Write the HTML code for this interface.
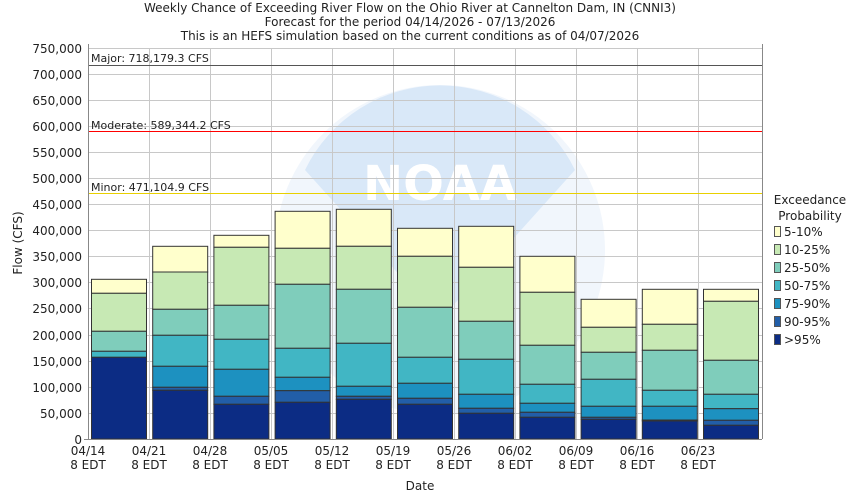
<!DOCTYPE html>
<html><head><meta charset="utf-8"><style>body{margin:0;background:#fff}svg{display:block}text{font-family:"DejaVu Sans","Liberation Sans",sans-serif;font-size:12px;fill:#222}
.a{fill:#ffffcc}.b{fill:#c7e9b4}.c{fill:#7fcdbb}.d{fill:#41b6c4}.e{fill:#1d91c0}.f{fill:#225ea8}.g{fill:#0c2c84}
.bars rect{stroke:#333;stroke-width:1}
</style></head><body>
<svg width="850" height="500" xmlns="http://www.w3.org/2000/svg">
<rect width="850" height="500" fill="#fff"/>
<circle cx="440" cy="250" r="165" fill="#f1f6fc"/>
<path d="M305,170 A150,150 0 0 1 575,170 L440,320 Z" fill="#d9e8f8"/>
<text x="440" y="200" text-anchor="middle" style="font-size:48px;font-weight:bold;fill:#fff">NOAA</text>
<g text-anchor="middle">
<text x="410" y="12">Weekly Chance of Exceeding River Flow on the Ohio River at Cannelton Dam, IN (CNNI3)</text>
<text x="410" y="26">Forecast for the period 04/14/2026 - 07/13/2026</text>
<text x="410" y="40">This is an HEFS simulation based on the current conditions as of 04/07/2026</text>
</g>
<g stroke="#c8c8c8" stroke-width="1">
<line x1="88" x2="762" y1="48.5" y2="48.5"/><line x1="88" x2="762" y1="74.5" y2="74.5"/><line x1="88" x2="762" y1="100.5" y2="100.5"/><line x1="88" x2="762" y1="126.5" y2="126.5"/><line x1="88" x2="762" y1="152.5" y2="152.5"/><line x1="88" x2="762" y1="178.5" y2="178.5"/><line x1="88" x2="762" y1="204.5" y2="204.5"/><line x1="88" x2="762" y1="230.5" y2="230.5"/><line x1="88" x2="762" y1="256.5" y2="256.5"/><line x1="88" x2="762" y1="282.5" y2="282.5"/><line x1="88" x2="762" y1="308.5" y2="308.5"/><line x1="88" x2="762" y1="335.5" y2="335.5"/><line x1="88" x2="762" y1="361.5" y2="361.5"/><line x1="88" x2="762" y1="387.5" y2="387.5"/><line x1="88" x2="762" y1="413.5" y2="413.5"/>
<line x1="149.5" x2="149.5" y1="48" y2="439"/><line x1="210.5" x2="210.5" y1="48" y2="439"/><line x1="271.5" x2="271.5" y1="48" y2="439"/><line x1="332.5" x2="332.5" y1="48" y2="439"/><line x1="393.5" x2="393.5" y1="48" y2="439"/><line x1="454.5" x2="454.5" y1="48" y2="439"/><line x1="515.5" x2="515.5" y1="48" y2="439"/><line x1="576.5" x2="576.5" y1="48" y2="439"/><line x1="637.5" x2="637.5" y1="48" y2="439"/><line x1="698.5" x2="698.5" y1="48" y2="439"/>
</g>
<rect x="88" y="65" width="674" height="1" style="fill:#555555"/>
<rect x="88" y="131" width="674" height="1" style="fill:#ff0000"/>
<rect x="88" y="193" width="674" height="1" style="fill:#e8d000"/>
<text x="91" y="62" style="font-size:11px">Major: 718,179.3 CFS</text>
<text x="91" y="129" style="font-size:11px">Moderate: 589,344.2 CFS</text>
<text x="91" y="191" style="font-size:11px">Minor: 471,104.9 CFS</text>
<g class="bars">
<g transform="translate(91.5,0)"><rect class="a" y="279.3" width="55" height="14"/><rect class="b" y="293.3" width="55" height="38"/><rect class="c" y="331.3" width="55" height="20"/><rect class="d" y="351.3" width="55" height="6"/><rect class="g" y="357.3" width="55" height="81.7"/></g>
<g transform="translate(152.7,0)"><rect class="a" y="246.3" width="55" height="25.7"/><rect class="b" y="272" width="55" height="37.3"/><rect class="c" y="309.3" width="55" height="26"/><rect class="d" y="335.3" width="55" height="31"/><rect class="e" y="366.3" width="55" height="21"/><rect class="f" y="387.3" width="55" height="3"/><rect class="g" y="390.3" width="55" height="48.7"/></g>
<g transform="translate(213.9,0)"><rect class="a" y="235.3" width="55" height="12"/><rect class="b" y="247.3" width="55" height="58"/><rect class="c" y="305.3" width="55" height="34"/><rect class="d" y="339.3" width="55" height="30"/><rect class="e" y="369.3" width="55" height="27"/><rect class="f" y="396.3" width="55" height="8"/><rect class="g" y="404.3" width="55" height="34.7"/></g>
<g transform="translate(275.1,0)"><rect class="a" y="211.3" width="55" height="37"/><rect class="b" y="248.3" width="55" height="36"/><rect class="c" y="284.3" width="55" height="64"/><rect class="d" y="348.3" width="55" height="29"/><rect class="e" y="377.3" width="55" height="13.4"/><rect class="f" y="390.7" width="55" height="11.6"/><rect class="g" y="402.3" width="55" height="36.7"/></g>
<g transform="translate(336.3,0)"><rect class="a" y="209.3" width="55" height="37"/><rect class="b" y="246.3" width="55" height="43"/><rect class="c" y="289.3" width="55" height="54"/><rect class="d" y="343.3" width="55" height="43"/><rect class="e" y="386.3" width="55" height="10"/><rect class="f" y="396.3" width="55" height="3"/><rect class="g" y="399.3" width="55" height="39.7"/></g>
<g transform="translate(397.5,0)"><rect class="a" y="228.3" width="55" height="28"/><rect class="b" y="256.3" width="55" height="51"/><rect class="c" y="307.3" width="55" height="50"/><rect class="d" y="357.3" width="55" height="26"/><rect class="e" y="383.3" width="55" height="15"/><rect class="f" y="398.3" width="55" height="6"/><rect class="g" y="404.3" width="55" height="34.7"/></g>
<g transform="translate(458.7,0)"><rect class="a" y="226.3" width="55" height="41"/><rect class="b" y="267.3" width="55" height="54"/><rect class="c" y="321.3" width="55" height="38"/><rect class="d" y="359.3" width="55" height="35"/><rect class="e" y="394.3" width="55" height="14"/><rect class="f" y="408.3" width="55" height="5"/><rect class="g" y="413.3" width="55" height="25.7"/></g>
<g transform="translate(519.9,0)"><rect class="a" y="256.3" width="55" height="36"/><rect class="b" y="292.3" width="55" height="53"/><rect class="c" y="345.3" width="55" height="39"/><rect class="d" y="384.3" width="55" height="19"/><rect class="e" y="403.3" width="55" height="9"/><rect class="f" y="412.3" width="55" height="5"/><rect class="g" y="417.3" width="55" height="21.7"/></g>
<g transform="translate(581.1,0)"><rect class="a" y="299.3" width="55" height="28"/><rect class="b" y="327.3" width="55" height="25"/><rect class="c" y="352.3" width="55" height="27"/><rect class="d" y="379.3" width="55" height="27"/><rect class="e" y="406.3" width="55" height="11"/><rect class="f" y="417.3" width="55" height="2"/><rect class="g" y="419.3" width="55" height="19.7"/></g>
<g transform="translate(642.3,0)"><rect class="a" y="289.3" width="55" height="35"/><rect class="b" y="324.3" width="55" height="26"/><rect class="c" y="350.3" width="55" height="40"/><rect class="d" y="390.3" width="55" height="16"/><rect class="e" y="406.3" width="55" height="13.7"/><rect class="f" y="420" width="55" height="1"/><rect class="g" y="421" width="55" height="18"/></g>
<g transform="translate(703.5,0)"><rect class="a" y="289.3" width="55" height="12"/><rect class="b" y="301.3" width="55" height="59"/><rect class="c" y="360.3" width="55" height="34"/><rect class="d" y="394.3" width="55" height="14.4"/><rect class="e" y="408.7" width="55" height="11.6"/><rect class="f" y="420.3" width="55" height="5"/><rect class="g" y="425.3" width="55" height="13.7"/></g>
</g>
<line x1="88.5" x2="88.5" y1="44" y2="439" stroke="#888"/>
<line x1="762.5" x2="762.5" y1="44" y2="439" stroke="#888"/>
<line x1="84" x2="762" y1="439.5" y2="439.5" stroke="#888"/>
<g text-anchor="end">
<text x="82" y="53">750,000</text><text x="82" y="79">700,000</text><text x="82" y="105">650,000</text><text x="82" y="131">600,000</text><text x="82" y="157">550,000</text><text x="82" y="183">500,000</text><text x="82" y="209">450,000</text><text x="82" y="235">400,000</text><text x="82" y="261">350,000</text><text x="82" y="287">300,000</text><text x="82" y="313">250,000</text><text x="82" y="340">200,000</text><text x="82" y="366">150,000</text><text x="82" y="392">100,000</text><text x="82" y="418">50,000</text><text x="82" y="444">0</text>
</g>
<g text-anchor="middle">
<text x="88" y="455">04/14</text><text x="88" y="469">8 EDT</text>
<text x="149" y="455">04/21</text><text x="149" y="469">8 EDT</text>
<text x="210" y="455">04/28</text><text x="210" y="469">8 EDT</text>
<text x="271" y="455">05/05</text><text x="271" y="469">8 EDT</text>
<text x="332" y="455">05/12</text><text x="332" y="469">8 EDT</text>
<text x="393" y="455">05/19</text><text x="393" y="469">8 EDT</text>
<text x="454" y="455">05/26</text><text x="454" y="469">8 EDT</text>
<text x="515" y="455">06/02</text><text x="515" y="469">8 EDT</text>
<text x="576" y="455">06/09</text><text x="576" y="469">8 EDT</text>
<text x="637" y="455">06/16</text><text x="637" y="469">8 EDT</text>
<text x="698" y="455">06/23</text><text x="698" y="469">8 EDT</text>
<text x="420" y="490">Date</text>
<text transform="translate(22,243) rotate(-90)">Flow (CFS)</text>
<text x="810" y="204">Exceedance</text>
<text x="810" y="220">Probability</text>
</g>
<g stroke="#555" stroke-width="1">
<rect class="a" x="774.5" y="226.5" width="6" height="10"/>
<rect class="b" x="774.5" y="244.5" width="6" height="10"/>
<rect class="c" x="774.5" y="262.5" width="6" height="10"/>
<rect class="d" x="774.5" y="280.5" width="6" height="10"/>
<rect class="e" x="774.5" y="298.5" width="6" height="10"/>
<rect class="f" x="774.5" y="316.5" width="6" height="10"/>
<rect class="g" x="774.5" y="334.5" width="6" height="10"/>
</g>
<text x="784" y="236">5-10%</text>
<text x="784" y="254">10-25%</text>
<text x="784" y="272">25-50%</text>
<text x="784" y="290">50-75%</text>
<text x="784" y="308">75-90%</text>
<text x="784" y="326">90-95%</text>
<text x="784" y="344">&gt;95%</text>
</svg>
</body></html>
